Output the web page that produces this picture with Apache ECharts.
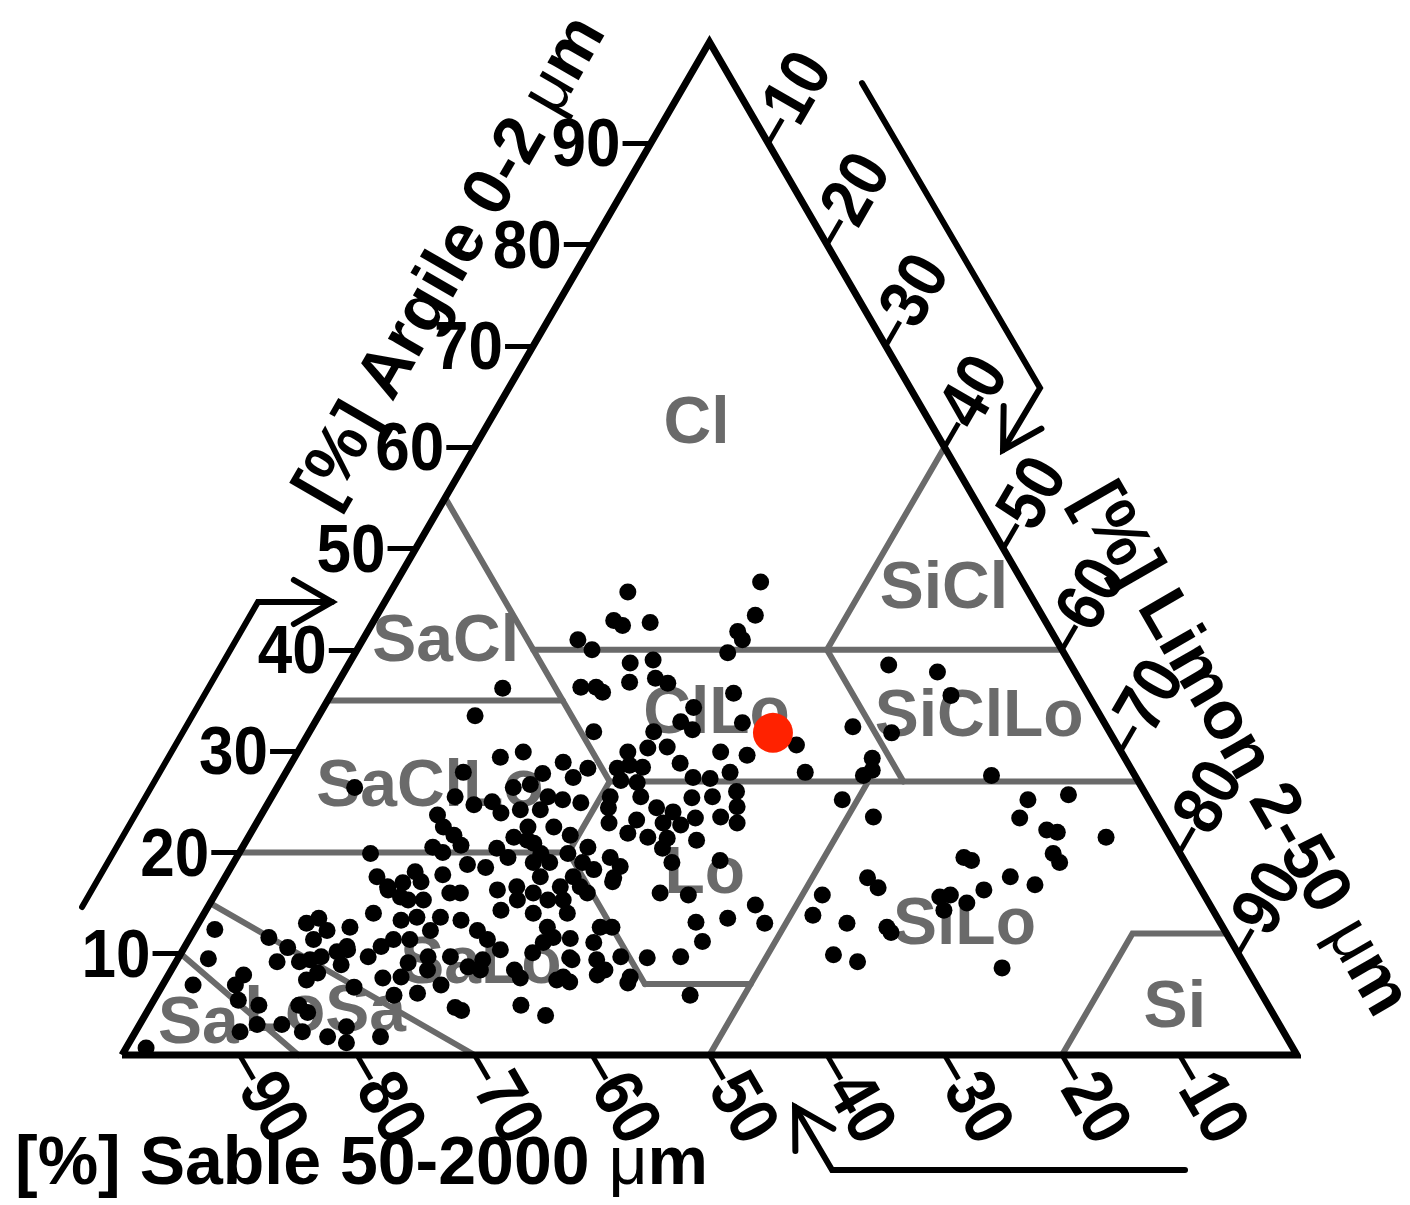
<!DOCTYPE html>
<html>
<head>
    <meta charset="utf-8" />
    <title>Triangle des textures</title>
    <script src="https://cdn.jsdelivr.net/npm/echarts@6/dist/echarts.min.js"></script>
    <style>html,body{margin:0;padding:0;background:#fff;}</style>
</head>
<body>
<div id="main" style="width:1410px;height:1205px;"></div>
<script type="text/javascript">
    // graduations des trois axes (%)
    var tickValues = [10, 20, 30, 40, 50, 60, 70, 80, 90];

    // échantillons : argile (%) et limon (%), sable = 100 - argile - limon
    var pointClay = [12.4, 9.5, 6.9, 0.7, 11.6, 10.6, 9.2, 9.2, 13.0, 13.5, 12.3, 11.4, 12.6, 10.2, 10.4, 8.9, 9.4, 9.7, 7.4, 8.1,
        7.9, 6.9, 5.4, 4.9, 3.0, 2.3, 3.0, 2.3, 4.9, 4.2, 1.8, 2.8, 1.2, 6.7, 1.8, 5.9, 6.1, 6.9, 4.7, 4.4,
        4.9, 3.9, 8.4, 7.6, 10.1, 11.5, 9.6, 7.2, 7.4, 14.0, 16.3, 15.3, 15.3, 16.0, 13.6, 13.3, 12.3, 11.4, 10.4, 9.4,
        9.7, 9.7, 9.1, 10.7, 11.4, 9.7, 10.7, 11.4, 12.3, 13.3, 13.6, 14.3, 16.3, 15.3, 14.0, 15.3, 15.3, 12.6, 11.1, 11.6,
        7.7, 8.4, 7.6, 8.7, 8.4, 16.0, 15.8, 14.8, 13.0, 13.1, 13.5, 11.2, 9.7, 9.6, 9.7, 7.1, 7.7, 12.6, 12.6, 11.1,
        9.4, 9.4, 8.4, 7.9, 7.7, 5.9, 17.1, 16.6, 14.0, 33.5, 29.4, 29.9, 27.9, 26.4, 25.5, 24.7, 25.0, 23.9, 26.4, 26.7,
        24.2, 23.7, 22.5, 21.7, 20.7, 20.5, 20.0, 19.9, 17.6, 16.6, 17.0, 18.1, 17.1, 17.8, 18.8, 18.5, 20.4, 19.5, 21.5, 22.5,
        20.9, 19.0, 16.6, 16.0, 15.6, 31.9, 28.9, 28.3, 27.4, 27.8, 29.9, 30.3, 31.9, 30.4, 28.8, 32.1, 29.9, 29.6, 27.4, 27.3,
        27.9, 26.0, 25.4, 25.5, 23.5, 22.9, 24.5, 28.3, 28.6, 28.4, 27.1, 26.9, 25.5, 25.5, 24.4, 24.4, 24.0, 23.4, 23.2, 22.9,
        22.9, 22.7, 21.9, 21.5, 21.4, 21.2, 20.4, 19.0, 19.2, 19.5, 18.6, 17.5, 25.5, 25.2, 24.9, 24.2, 22.5, 21.7, 20.5, 19.9,
        21.2, 19.9, 19.0, 19.0, 17.6, 18.3, 17.6, 16.6, 16.0, 16.0, 45.7, 46.7, 43.4, 42.9, 42.4, 42.7, 41.0, 40.0, 41.8, 41.0,
        39.7, 38.7, 39.0, 36.8, 37.2, 36.7, 36.3, 36.3, 35.8, 36.2, 35.7, 32.8, 34.3, 32.9, 38.5, 37.8, 35.5, 30.6, 27.9, 32.4,
        31.8, 29.3, 27.6, 28.1, 25.2, 27.6, 25.2, 25.7, 23.5, 23.4, 22.2, 22.0, 21.5, 19.9, 19.0, 19.5, 19.2, 17.6, 16.8, 16.3,
        15.6, 15.8, 15.0, 14.3, 17.5, 16.5, 15.8, 13.8, 13.0, 12.6, 12.1, 9.9, 9.2, 8.6];
    var pointSilt = [1.7, 2.6, 2.6, 1.7, 6.7, 8.8, 8.6, 10.5, 9.2, 10.0, 11.3, 10.6, 13.1, 13.2, 14.0, 14.2, 11.3, 12.1, 12.0, 12.6,
        6.4, 6.2, 7.2, 9.2, 10.0, 8.9, 12.1, 14.2, 12.6, 13.7, 16.6, 17.7, 18.5, 16.4, 21.1, 20.2, 22.1, 23.7, 26.0, 26.7,
        31.5, 34.1, 29.2, 30.1, 29.9, 32.4, 33.3, 34.5, 33.3, 14.4, 14.5, 16.7, 18.0, 19.9, 20.3, 22.2, 24.1, 25.4, 27.0, 26.0,
        23.1, 21.2, 19.8, 16.7, 17.4, 16.1, 13.8, 18.8, 20.1, 17.1, 18.3, 25.1, 23.8, 26.0, 28.0, 28.6, 29.9, 29.9, 30.3, 30.9,
        19.9, 21.8, 18.4, 25.1, 26.3, 37.8, 40.3, 46.5, 48.2, 42.3, 44.8, 43.8, 42.7, 39.9, 37.6, 39.5, 39.4, 34.4, 35.4, 34.6,
        33.6, 35.7, 36.9, 36.5, 33.7, 45.4, 33.2, 30.7, 30.9, 13.3, 17.5, 19.2, 15.1, 6.6, 15.6, 17.6, 19.0, 20.3, 20.1, 21.4,
        21.8, 15.0, 16.1, 17.4, 18.5, 16.2, 17.3, 11.2, 12.9, 14.3, 15.4, 15.9, 16.9, 18.4, 20.0, 21.7, 21.7, 23.1, 22.6, 23.3,
        24.6, 25.5, 25.3, 20.8, 15.9, 24.2, 23.1, 25.5, 24.7, 21.9, 28.1, 29.6, 29.3, 31.2, 33.1, 32.5, 36.0, 38.4, 34.9, 36.4,
        37.8, 39.3, 35.8, 37.5, 39.2, 40.9, 40.1, 28.0, 28.9, 30.1, 28.9, 30.4, 28.8, 31.4, 29.2, 33.3, 34.9, 37.1, 32.2, 30.0,
        34.6, 36.2, 32.1, 34.0, 35.7, 38.3, 35.8, 37.3, 41.3, 31.8, 33.1, 33.1, 23.5, 24.9, 26.6, 23.5, 25.5, 27.3, 29.4, 28.0,
        23.9, 25.7, 26.9, 29.7, 29.6, 31.0, 26.8, 29.0, 27.0, 31.6, 20.2, 31.0, 32.2, 20.4, 21.4, 23.6, 18.3, 20.0, 31.5, 32.3,
        31.7, 23.9, 25.7, 24.8, 26.8, 28.1, 20.9, 22.2, 23.0, 14.3, 34.2, 36.4, 31.5, 31.1, 46.0, 50.5, 52.8, 42.1, 44.2, 46.0,
        49.6, 49.2, 49.3, 49.8, 48.7, 60.2, 64.5, 67.7, 52.2, 64.7, 67.6, 68.6, 73.0, 69.3, 70.3, 61.9, 62.7, 66.8, 69.3, 65.2,
        61.8, 62.6, 64.4, 62.8, 54.7, 56.1, 51.7, 51.9, 55.2, 58.8, 59.4, 55.6, 58.0, 70.6];

    // échantillon mis en évidence
    var sampleClay = [31.8];
    var sampleSilt = [39.5];

    // classes texturales (position du nom : argile, limon)
    var classNames = ['Cl', 'SiCl', 'SaCl', 'ClLo', 'SiClLo', 'SaClLo', 'Lo', 'SiLo', 'Si', 'SaLo', 'LoSa', 'Sa'];
    var classClay = [62.2, 45.9, 40.7, 33.6, 33.3, 26.4, 17.8, 12.8, 4.6, 8.9, 4.2, 3.0];
    var classSilt = [17.8, 47.0, 7.2, 33.8, 56.3, 13.0, 40.7, 65.3, 87.3, 26.1, 15.2, 5.0];

    // limites des classes : suites de points [argile, limon]
    var boundaries = [
        [[10, 0], [0, 15]],
        [[15, 0], [0, 30]],
        [[20, 0], [20, 28]],
        [[20, 28], [7, 41]],
        [[7, 41], [7, 50]],
        [[0, 50], [27, 50]],
        [[27, 28], [27, 73]],
        [[55, 0], [27, 28]],
        [[27, 28], [20, 28]],
        [[35, 0], [35, 20]],
        [[40, 15], [40, 60]],
        [[40, 40], [27, 53]],
        [[40, 40], [60, 40]],
        [[0, 80], [12, 80], [12, 88]]
    ];

    // flèches de sens de lecture (unités du repère)
    var arrowPaths = [
        [[62.98, 95.95], [78.13, 65.84], [74.98, 59.72]],
        [[-3.40, 14.61], [11.57, 44.72], [17.87, 44.72]],
        [[90.47, -11.35], [60.43, -11.35], [57.28, -5.13]]
    ];

    var TICK = 2.4;
    var FONT = '"Liberation Sans", Arial, sans-serif';
    var GREY = '#6a6a6a';

    // argile, limon -> x, y du repère cartésien
    function tern(clay, silt) {
        return [silt + clay / 2, clay];
    }

    var points = pointClay.map(function (c, i) { return tern(c, pointSilt[i]); });
    var sample = sampleClay.map(function (c, i) { return tern(c, sampleSilt[i]); });

    var boundaryData = boundaries.map(function (b) {
        return { coords: b.map(function (p) { return tern(p[0], p[1]); }) };
    });

    var tickData = [];
    var tickLabels = [];
    tickValues.forEach(function (v) {
        // argile (bord gauche)
        tickData.push({ coords: [tern(v, 0), tern(v, -TICK)] });
        tickLabels.push({ pos: tern(v, -TICK), text: String(v), rot: 0, align: 'right', dx: -2, dy: 4 });
        // sable (base)
        tickData.push({ coords: [tern(0, 100 - v), tern(-TICK, 100 - v + TICK)] });
        tickLabels.push({ pos: tern(-TICK, 100 - v + TICK), text: String(v), rot: -60, align: 'left', dx: 0, dy: 0 });
        // limon (bord droit)
        tickData.push({ coords: [tern(100 - v, v), tern(100 - v + TICK, v)] });
        tickLabels.push({ pos: tern(100 - v + TICK, v), text: String(v), rot: 60, align: 'left', dx: 0, dy: 0 });
    });

    var classData = classNames.map(function (n, i) { return tern(classClay[i], classSilt[i]); });

    var myChart = echarts.init(document.getElementById('main'));
    var option = {
        animation: false,
        backgroundColor: '#fff',
        grid: { left: 122, top: 42, width: 1175, height: 1013 },
        xAxis: { type: 'value', min: 0, max: 100, show: false },
        yAxis: { type: 'value', min: 0, max: 100, show: false },
        graphic: [
            {
                type: 'text', x: 452, y: 262, rotation: Math.PI / 3,
                style: {
                    text: '[%] Argile 0-2 {u|\u03bc}m', font: 'bold 68px ' + FONT, fill: '#000',
                    align: 'center', verticalAlign: 'middle',
                    rich: { u: { font: 'normal 68px ' + FONT, fill: '#000' } }
                }
            },
            {
                type: 'text', x: 1241, y: 750, rotation: -Math.PI / 3,
                style: {
                    text: '[%] Limon 2-50 {u|\u03bc}m', font: 'bold 68px ' + FONT, fill: '#000',
                    align: 'center', verticalAlign: 'middle',
                    rich: { u: { font: 'normal 68px ' + FONT, fill: '#000' } }
                }
            },
            {
                type: 'text', x: 15, y: 1165,
                style: {
                    text: '[%] Sable 50-2000 {u|\u03bc}m', font: 'bold 68px ' + FONT, fill: '#000',
                    align: 'left', verticalAlign: 'middle',
                    rich: { u: { font: 'normal 68px ' + FONT, fill: '#000' } }
                }
            }
        ],
        series: [
            {
                name: 'limites',
                type: 'lines',
                coordinateSystem: 'cartesian2d',
                polyline: true,
                clip: false,
                silent: true,
                lineStyle: { color: GREY, width: 6, opacity: 1, cap: 'round' },
                data: boundaryData,
                z: 1
            },
            {
                name: 'classes',
                type: 'custom',
                coordinateSystem: 'cartesian2d',
                clip: false,
                silent: true,
                data: classData,
                z: 2,
                renderItem: function (params, api) {
                    var p = api.coord([api.value(0), api.value(1)]);
                    return {
                        type: 'text', x: p[0], y: p[1],
                        style: {
                            text: classNames[params.dataIndex], font: 'bold 66px ' + FONT, fill: GREY,
                            align: 'center', verticalAlign: 'middle'
                        }
                    };
                }
            },
            {
                name: 'cadre',
                type: 'line',
                clip: false,
                silent: true,
                symbol: 'none',
                lineStyle: { color: '#000', width: 7, join: 'miter', miterLimit: 10 },
                data: [tern(0, 0), tern(0, 100), tern(100, 0), tern(0, 0)],
                z: 3
            },
            {
                name: 'graduations',
                type: 'lines',
                coordinateSystem: 'cartesian2d',
                clip: false,
                silent: true,
                lineStyle: { color: '#000', width: 5, opacity: 1 },
                data: tickData,
                z: 3
            },
            {
                name: 'etiquettes',
                type: 'custom',
                coordinateSystem: 'cartesian2d',
                clip: false,
                silent: true,
                data: tickLabels.map(function (t) { return t.pos; }),
                z: 3,
                renderItem: function (params, api) {
                    var t = tickLabels[params.dataIndex];
                    var p = api.coord([api.value(0), api.value(1)]);
                    return {
                        type: 'text', x: p[0] + t.dx, y: p[1] + t.dy,
                        rotation: t.rot * Math.PI / 180,
                        scaleY: 1.12,
                        style: {
                            text: t.text, font: 'bold 62px ' + FONT, fill: '#000',
                            align: t.align, verticalAlign: 'middle'
                        }
                    };
                }
            },
            {
                name: 'fleches',
                type: 'custom',
                coordinateSystem: 'cartesian2d',
                clip: false,
                silent: true,
                data: arrowPaths.map(function (a) { return a[0]; }),
                z: 3,
                renderItem: function (params, api) {
                    var path = arrowPaths[params.dataIndex].map(function (q) { return api.coord(q); });
                    var tip = path[path.length - 1];
                    var prev = path[path.length - 2];
                    var ang = Math.atan2(prev[1] - tip[1], prev[0] - tip[0]);
                    var len = 44, spread = Math.PI / 6;
                    var a1 = [tip[0] + len * Math.cos(ang + spread), tip[1] + len * Math.sin(ang + spread)];
                    var a2 = [tip[0] + len * Math.cos(ang - spread), tip[1] + len * Math.sin(ang - spread)];
                    var st = { stroke: '#000', lineWidth: 6, fill: null, lineJoin: 'miter', lineCap: 'round' };
                    return {
                        type: 'group',
                        children: [
                            { type: 'polyline', shape: { points: path }, style: st },
                            { type: 'polyline', shape: { points: [a1, tip, a2] }, style: st }
                        ]
                    };
                }
            },
            {
                name: 'echantillons',
                type: 'scatter',
                symbol: 'circle',
                symbolSize: 17,
                itemStyle: { color: '#000', opacity: 1 },
                data: points,
                z: 4
            },
            {
                name: 'echantillon',
                type: 'scatter',
                symbol: 'circle',
                symbolSize: 40,
                itemStyle: { color: '#ff2200', opacity: 1 },
                data: sample,
                z: 5
            }
        ]
    };
    myChart.setOption(option);
</script>
</body>
</html>
